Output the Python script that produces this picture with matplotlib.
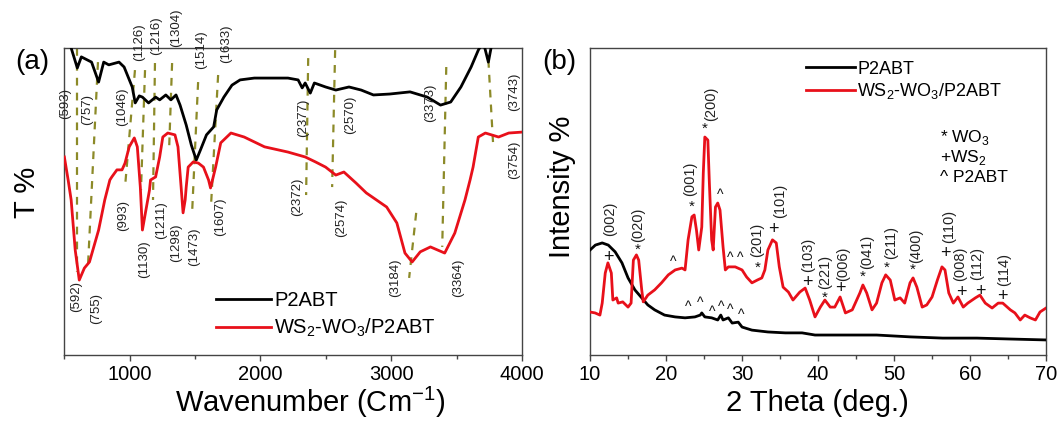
import matplotlib
matplotlib.use("Agg")
import matplotlib.pyplot as plt
from matplotlib.ticker import MultipleLocator

plt.rcParams['font.family'] = ['Liberation Sans', 'DejaVu Sans']
plt.rcParams['mathtext.fontset'] = 'custom'
plt.rcParams['mathtext.rm'] = 'Liberation Sans'

# ---------------- (a) FTIR ----------------
ftir_black_w = [530, 552, 599, 630, 708, 762, 801, 840, 918, 957, 1019, 1042, 1073, 1097,
                1144, 1198, 1229, 1276, 1315, 1354, 1385, 1432, 1471, 1509, 1541, 1587, 1642,
                1665, 1720, 1782, 1844, 1953, 2210, 2288, 2319, 2342, 2381, 2412, 2498, 2576,
                2677, 2770, 2864, 2988, 3144, 3276, 3377, 3455, 3533, 3611, 3666, 3704, 3743,
                3775, 3899, 4000]
ftir_black_t = [104, 100.0, 93.5, 97.1, 95.4, 88.9, 95.4, 94.5, 95.4, 93.8, 87.3, 82.1, 84.4, 84.0,
                82.1, 84.0, 83.1, 84.7, 83.1, 84.7, 81.4, 74.9, 68.4, 63.5, 66.8, 71.7, 74.3,
                79.8, 84.0, 87.9, 89.6, 90.2, 90.2, 89.6, 87.0, 88.6, 85.3, 88.6, 87.3, 86.3,
                87.3, 86.3, 84.7, 85.0, 85.7, 84.0, 81.4, 82.4, 87.3, 93.8, 99.3, 102, 95.4,
                102.6, 105.9, 107.5]

ftir_red_w = [500, 529, 552, 583, 614, 653, 692, 762, 809, 848, 863, 902, 941, 964, 996, 1035,
              1058, 1081, 1097, 1120, 1151, 1159, 1198, 1229, 1253, 1291, 1346, 1369, 1393, 1408,
              1424, 1432, 1447, 1486, 1525, 1564, 1603, 1618, 1657, 1696, 1774, 1875, 2031, 2210,
              2342, 2420, 2498, 2576, 2638, 2731, 2809, 2887, 2965, 3043, 3105, 3160, 3222, 3300,
              3409, 3486, 3564, 3603, 3626, 3666, 3720, 3821, 3899, 4000]
ftir_red_t = [64.5, 57.0, 50.5, 34.2, 24.4, 28.3, 30.3, 40.7, 50.5, 57.0, 58.0, 60.3, 60.3, 62.5,
              67.8, 70.7, 67.8, 54.7, 40.7, 46.3, 53.7, 57.0, 58.0, 64.5, 71.0, 72.3, 71.7, 67.8,
              54.7, 46.3, 50.5, 54.7, 61.2, 62.9, 62.5, 61.2, 57.0, 54.4, 61.2, 69.1, 72.3, 71.0,
              67.8, 66.1, 64.5, 62.9, 61.2, 58.6, 59.6, 56.0, 52.8, 50.5, 48.2, 43.0, 33.2, 30.3,
              33.6, 35.2, 33.2, 39.7, 50.5, 57.0, 61.2, 71.0, 72.3, 71.0, 72.3, 72.6]

# dashed guide lines: (w_top, t_top, w_bottom, t_bottom)
ftir_guides = [(596, 100, 596, 27), (757, 95.4, 681, 29.3), (1040, 92.8, 964, 54.7),
               (1117, 92.8, 1086, 53.7), (1193, 95.1, 1178, 50.5), (1324, 95.1, 1301, 66.8),
               (1523, 88.9, 1477, 46.3), (1676, 91.2, 1622, 48.9), (2365, 96.7, 2349, 52.1),
               (2571, 99.3, 2548, 54.7), (3421, 93.8, 3390, 35.2), (3191, 46.3, 3137, 25.1),
               (3743, 96.1, 3781, 67.4)]

ftir_labels = [("(593)", 505, 81.8), ("(757)", 673, 79.8), ("(1046)", 941, 80.8),
               ("(1126)", 1071, 102), ("(1216)", 1201, 103.9), ("(1304)", 1354, 106.5),
               ("(1514)", 1546, 99.3), ("(1633)", 1738, 101.3), ("(2377)", 2330, 77.2),
               ("(2570)", 2685, 78.2), ("(3373)", 3298, 82.1), ("(3743)", 3939, 85.7),
               ("(3754)", 3939, 63.5), ("(592)", 589, 18.9), ("(755)", 742, 15.3),
               ("(993)", 948, 45.3), ("(1130)", 1109, 31.3), ("(1211)", 1239, 44.0),
               ("(1298)", 1354, 36.5), ("(1473)", 1492, 35.2), ("(1607)", 1691, 45.0),
               ("(2372)", 2280, 51.5), ("(2574)", 2617, 44.6), ("(3184)", 3030, 25.1),
               ("(3364)", 3513, 25.1)]

# ---------------- (b) XRD ----------------
xrd_red_x = [10, 10.66, 11.3, 11.6, 12.0, 12.35, 12.8, 13.0, 13.5, 13.7, 14.3, 15.0, 15.4, 15.7,
             16.1, 16.4, 16.8, 17.0, 17.6, 18.5, 19.4, 20.3, 21.2, 22.1, 22.5, 22.9, 23.4, 23.7,
             24.0, 24.3, 24.7, 24.9, 25.1, 25.5, 25.7, 26.0, 26.2, 26.5, 26.8, 27.1, 27.5, 27.8,
             28.2, 29.1, 30.0, 30.6, 31.3, 32.0, 32.6, 33.0, 33.4, 34.0, 34.5, 34.9, 35.4, 36.1,
             36.7, 37.6, 38.3, 38.9, 39.6, 40.3, 40.9, 41.6, 42.2, 42.9, 43.6, 44.5, 45.5, 45.9,
             46.4, 47.1, 47.7, 48.4, 48.9, 49.5, 50.1, 50.8, 51.4, 52.1, 52.5, 53.0, 53.7, 54.3,
             55.0, 55.7, 56.3, 56.7, 57.2, 57.8, 58.4, 59.1, 59.7, 60.7, 61.3, 62.0, 62.9, 63.7,
             64.3, 65.3, 65.9, 66.6, 67.2, 67.9, 68.6, 69.2, 70.0]
xrd_red_i = [14.0, 13.7, 13.0, 16.9, 26.7, 30.0, 26.7, 17.9, 18.6, 16.9, 17.3, 15.6, 16.9, 30.9,
             32.6, 30.9, 21.2, 17.3, 19.5, 21.2, 23.5, 26.1, 27.7, 28.3, 27.7, 37.5, 45.0, 45.6,
             40.7, 34.2, 41.7, 59.3, 71.0, 70.0, 56.0, 37.5, 34.2, 48.2, 49.5, 47.2, 35.2, 27.7,
             28.7, 28.7, 27.7, 25.4, 23.5, 24.4, 25.1, 27.7, 34.2, 37.5, 36.5, 28.7, 22.1, 20.5,
             17.9, 20.5, 21.8, 17.9, 12.4, 15.6, 17.9, 15.6, 15.6, 18.9, 13.7, 14.7, 20.2, 22.8,
             20.2, 14.7, 16.9, 23.5, 26.1, 24.4, 17.9, 18.6, 16.9, 23.5, 25.1, 22.1, 15.6, 16.3,
             18.9, 24.4, 28.7, 27.7, 20.2, 16.9, 18.9, 15.6, 16.9, 18.6, 19.5, 16.9, 15.3, 16.9,
             16.9, 14.7, 13.7, 11.4, 13.0, 12.1, 11.4, 14.0, 15.3]

xrd_black_x = [10, 10.7, 11.6, 12.4, 13.3, 14.2, 15.0, 15.9, 16.8, 17.6, 18.5, 19.8, 21.2, 22.5,
               23.8, 24.5, 24.7, 25.1, 26.0, 26.8, 27.2, 27.5, 28.2, 28.7, 29.5, 30.0, 31.3,
               33.4, 35.7, 37.9, 39.6, 43.3, 47.7, 52.1, 56.4, 60.9, 65.3, 70.0]
xrd_black_i = [34.2, 35.8, 36.5, 35.8, 33.6, 30.0, 25.1, 21.2, 18.6, 16.3, 14.7, 13.0, 12.4, 12.1,
               12.4, 13.0, 13.7, 12.4, 12.1, 11.4, 13.0, 11.4, 12.1, 10.4, 10.7, 9.1, 8.1,
               7.5, 7.2, 7.2, 6.5, 6.5, 6.5, 5.9, 5.5, 5.5, 5.2, 4.9]

# phase marks: (symbol, x, y)
xrd_marks = [("+", 12.4, 31.6), ("*", 16.3, 34.2), ("^", 20.9, 30.3), ("*", 23.4, 48.2),
             ("*", 25.1, 73.6), ("^", 27.1, 52.1), ("^", 28.4, 31.6), ("^", 29.7, 31.6),
             ("*", 32.1, 28.3), ("+", 34.1, 41.0), ("+", 38.6, 23.5), ("*", 40.9, 18.6),
             ("+", 42.9, 21.5), ("*", 45.9, 25.4), ("*", 49.0, 28.3), ("*", 52.5, 27.7),
             ("+", 56.7, 33.2), ("+", 58.8, 20.2), ("+", 61.3, 20.8), ("+", 64.3, 19.2),
             ("^", 22.9, 15.6), ("^", 24.5, 16.9), ("^", 26.1, 14.0), ("^", 27.2, 15.6),
             ("^", 28.4, 14.7), ("^", 29.9, 13.0)]

xrd_hkl = [("(002)", 12.6, 44.3), ("(020)", 16.3, 42.4), ("(001)", 23.2, 57.4),
           ("(200)", 25.9, 81.8), ("(201)", 32.0, 37.5), ("(101)", 35.0, 50.2),
           ("(103)", 38.7, 32.6), ("(221)", 40.9, 27.0), ("(006)", 43.3, 29.7),
           ("(041)", 46.4, 33.6), ("(211)", 49.6, 36.8), ("(400)", 52.9, 35.6),
           ("(110)", 57.2, 42.0), ("(008)", 58.7, 29.7), ("(112)", 60.9, 29.7),
           ("(114)", 64.5, 27.7)]

phase_key = ["* WO$_\\mathregular{3}$", "+WS$_\\mathregular{2}$", "^ P2ABT"]

name_black = "P2ABT"
name_red = "WS$_\\mathregular{2}$-WO$_\\mathregular{3}$/P2ABT"

RED = "#e8101a"
OLIVE = "#8c8a28"
SPINE = "#444444"

fig = plt.figure(figsize=(10.62, 4.22), dpi=100)
ax1 = fig.add_axes([0.0606, 0.1588, 0.4309, 0.7275])
ax2 = fig.add_axes([0.5556, 0.1588, 0.4294, 0.7275])

for ax in (ax1, ax2):
    for s in ax.spines.values():
        s.set_color(SPINE)
        s.set_linewidth(1.0)
    ax.set_yticks([])
    ax.tick_params(axis='x', which='major', direction='out', length=4, width=1,
                   color=SPINE, labelsize=14.5, pad=3)
    ax.tick_params(axis='x', which='minor', direction='out', length=3, width=1, color=SPINE)
    ax.set_ylim(0, 100)

# panel a
for w0, t0, w1, t1 in ftir_guides:
    ax1.plot([w0, w1], [t0, t1], color=OLIVE, lw=1.6, dashes=(3.5, 3.2), zorder=1)
ax1.plot(ftir_black_w, ftir_black_t, color='black', lw=2.0, label=name_black, zorder=3)
ax1.plot(ftir_red_w, ftir_red_t, color=RED, lw=2.0, label=name_red, zorder=3)
ax1.set_xlim(500, 4000)
ax1.xaxis.set_major_locator(MultipleLocator(1000))
ax1.xaxis.set_minor_locator(MultipleLocator(500))
for txt, w, t in ftir_labels:
    ax1.text(w, t, txt, rotation=90, ha='center', va='center', fontsize=9.5,
             color='#222222', clip_on=False, zorder=4)
ax1.legend(loc='lower left', bbox_to_anchor=(0.3, 0.005), frameon=False, fontsize=14.5,
           handlelength=2.75, handletextpad=0.15, labelspacing=0.35, borderpad=0.2)

# panel b
ax2.plot(xrd_black_x, xrd_black_i, color='black', lw=2.0, label=name_black, zorder=3)
ax2.plot(xrd_red_x, xrd_red_i, color=RED, lw=2.0, label=name_red, zorder=3)
ax2.set_xlim(10, 70)
ax2.xaxis.set_major_locator(MultipleLocator(10))
ax2.xaxis.set_minor_locator(MultipleLocator(5))
for sym, x, y in xrd_marks:
    fs = {"+": 13, "*": 11, "^": 10}[sym]
    ax2.text(x, y, sym, ha='center', va='center', fontsize=fs, color='#111111', zorder=4)
for txt, x, y in xrd_hkl:
    ax2.text(x, y, txt, rotation=90, ha='center', va='center', fontsize=10.5,
             color='#222222', zorder=4)
for k, txt in enumerate(phase_key):
    ax2.text(0.768, 0.71 - 0.066 * k, txt, transform=ax2.transAxes, ha='left',
             va='center', fontsize=12.5)
ax2.legend(loc='upper left', bbox_to_anchor=(0.445, 1.0), frameon=False, fontsize=13,
           handlelength=2.75, handletextpad=0.1, labelspacing=0.2, borderpad=0.2)

# labels
fig.text(0.030, 0.853, "(a)", fontsize=20, ha='center', va='center')
fig.text(0.527, 0.853, "(b)", fontsize=20, ha='center', va='center')
fig.text(0.025, 0.545, "T %", fontsize=21, rotation=90, ha='center', va='center')
fig.text(0.529, 0.557, "Intensity %", fontsize=21, rotation=90, ha='center', va='center')
fig.text(0.292, 0.004, "Wavenumber (Cm$^{\\mathregular{-1}}$)", fontsize=21,
         ha='center', va='bottom')
fig.text(0.770, 0.012, "2 Theta (deg.)", fontsize=21, ha='center', va='bottom')

fig.savefig("out.png", dpi=100)
